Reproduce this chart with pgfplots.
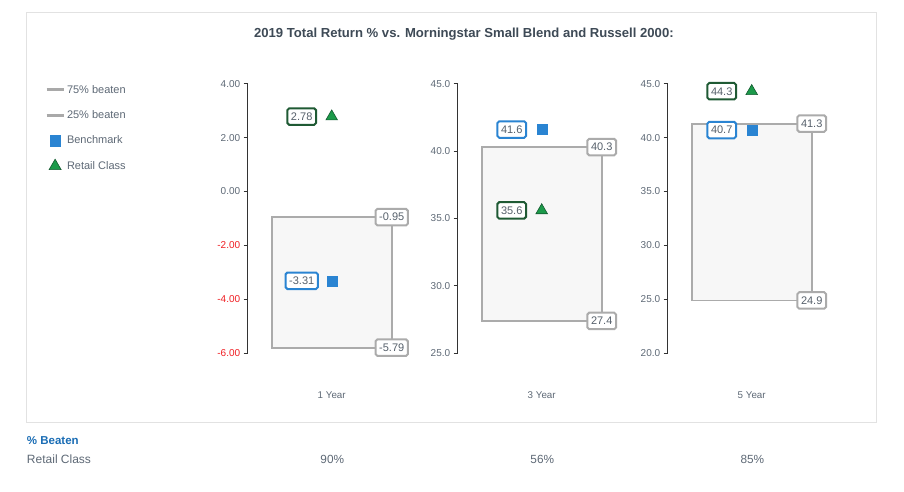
\documentclass[border=0pt]{standalone}
\usepackage{pgfplots}
\pgfplotsset{compat=1.18}
\usepackage{fontspec}
\setmainfont{Liberation Sans}

\definecolor{tickgray}{HTML}{5E6976}
\definecolor{titlecol}{HTML}{3E4A56}
\definecolor{negred}{HTML}{F01E23}
\definecolor{axisblack}{HTML}{333333}
\definecolor{boxfill}{HTML}{F7F7F7}
\definecolor{boxgray}{HTML}{ABABAB}
\definecolor{greenlbl}{HTML}{1F5A34}
\definecolor{trifill}{HTML}{1C9A4A}
\definecolor{triedge}{HTML}{145A30}
\definecolor{benchblue}{HTML}{2A84D2}
\definecolor{labeltext}{HTML}{56606B}
\definecolor{panelgray}{HTML}{E2E2E2}
\definecolor{beatblue}{HTML}{1A6DB5}
\definecolor{legendgray}{HTML}{A9A9A9}

\tikzset{lbl/.style={draw, line width=2pt, rounded corners=1.8pt, fill=white,
    text=labeltext, inner xsep=3.6pt, inner ysep=0pt, minimum height=16.5pt,
    font=\fontsize{11}{13}\selectfont}}

\pgfplotsset{
  boxaxis/.style={
    scale only axis, width=180pt, height=269.6pt,
    xmin=0, xmax=1.5, clip=false,
    axis lines*=left,
    x axis line style={draw=none},
    y axis line style={line width=1.1pt, color=axisblack},
    xtick={0.7}, major x tick style={draw=none},
    ytick style={line width=1.1pt, color=axisblack},
    tick align=outside, major tick length=4pt,
    xticklabel style={font=\fontsize{9.8}{11}\selectfont, text=tickgray, yshift=-31pt},
    yticklabel style={font=\fontsize{10}{12}\selectfont, text=tickgray},
    /pgf/number format/assume math mode=true,
  },
  shortline/.style={legend image code/.code={\draw[##1, line width=2.8pt, legendgray] (0pt,0pt) -- (17pt,0pt);}},
  markimg/.style={legend image code/.code={\draw[##1] plot coordinates {(8.5pt,0pt)};}},
}

\begin{document}
\begin{tikzpicture}[x=1pt,y=1pt]
\path[use as bounding box] (0,0) rectangle (904,491);
\fill[white] (0,0) rectangle (904,491);
\draw[panelgray, line width=1pt] (26.8,68.8) rectangle (876.3,478.7);
\node[font=\bfseries\fontsize{13.1}{15}\selectfont, text=titlecol] at (463.9,456.5)
  {2019 Total Return \% vs. Morningstar Small Blend and Russell 2000:};

% 1 Year
\begin{axis}[boxaxis, at={(247.7pt,137.7pt)}, anchor=south west,
  ymin=-6, ymax=4, ytick={-6,-4,-2,0,2,4},
  yticklabels={\textcolor{negred}{-6.00},\textcolor{negred}{-4.00},\textcolor{negred}{-2.00},0.00,2.00,4.00},
  xticklabels={1 Year},
  legend cell align=left,
  legend style={at={(-1.126,1.003)}, anchor=north west, draw=none, fill=none,
    inner sep=0pt, row sep=11.9pt, font=\fontsize{11}{13}\selectfont, text=tickgray}]
\addlegendimage{shortline}
\addlegendentry{75\% beaten}
\addlegendimage{shortline}
\addlegendentry{25\% beaten}
\addlegendimage{markimg, only marks, mark=square*, mark size=5.3pt, benchblue}
\addlegendentry{Benchmark}
\addlegendimage{markimg, only marks, mark=triangle*, mark size=7pt, mark options={fill=trifill, draw=triedge, line width=0.6pt}}
\addlegendentry{Retail Class}
\addplot[forget plot, draw=boxgray, line width=1.8pt, fill=boxfill]
  coordinates {(0.2,-5.79) (1.2,-5.79) (1.2,-0.95) (0.2,-0.95)} -- cycle;
\addplot[forget plot, draw=none, mark=none, nodes near coords, point meta=explicit symbolic,
  nodes near coords style={lbl, draw=boxgray, anchor=center}]
  coordinates {(1.2,-0.95) [-0.95] (1.2,-5.79) [-5.79]};
\addplot[forget plot, only marks, mark=square*, mark size=5pt, color=benchblue,
  nodes near coords, point meta=explicit symbolic,
  nodes near coords style={lbl, draw=benchblue, anchor=center, xshift=-30pt}]
  coordinates {(0.7,-3.31) [-3.31]};
\addplot[forget plot, only marks, mark=triangle*, mark size=6.7pt,
  mark options={fill=trifill, draw=triedge, line width=0.6pt},
  nodes near coords, point meta=explicit symbolic,
  nodes near coords style={lbl, draw=greenlbl, anchor=center, xshift=-30pt}]
  coordinates {(0.7,2.78) [2.78]};
\end{axis}

% 3 Year
\begin{axis}[boxaxis, at={(457.7pt,137.7pt)}, anchor=south west,
  ymin=25, ymax=45, ytick={25,30,...,45},
  yticklabel style={/pgf/number format/.cd, fixed, fixed zerofill, precision=1},
  xticklabels={3 Year}]
\addplot[draw=boxgray, line width=1.8pt, fill=boxfill]
  coordinates {(0.2,27.4) (1.2,27.4) (1.2,40.3) (0.2,40.3)} -- cycle;
\addplot[draw=none, mark=none, nodes near coords, point meta=explicit symbolic,
  nodes near coords style={lbl, draw=boxgray, anchor=center}]
  coordinates {(1.2,40.3) [40.3] (1.2,27.4) [27.4]};
\addplot[only marks, mark=square*, mark size=5pt, color=benchblue,
  nodes near coords, point meta=explicit symbolic,
  nodes near coords style={lbl, draw=benchblue, anchor=center, xshift=-30pt}]
  coordinates {(0.7,41.6) [41.6]};
\addplot[only marks, mark=triangle*, mark size=6.7pt,
  mark options={fill=trifill, draw=triedge, line width=0.6pt},
  nodes near coords, point meta=explicit symbolic,
  nodes near coords style={lbl, draw=greenlbl, anchor=center, xshift=-30pt}]
  coordinates {(0.7,35.6) [35.6]};
\end{axis}

% 5 Year
\begin{axis}[boxaxis, at={(667.7pt,137.7pt)}, anchor=south west,
  ymin=20, ymax=45, ytick={20,25,...,45},
  yticklabel style={/pgf/number format/.cd, fixed, fixed zerofill, precision=1},
  xticklabels={5 Year}]
\addplot[draw=boxgray, line width=1.8pt, fill=boxfill]
  coordinates {(0.2,24.9) (1.2,24.9) (1.2,41.3) (0.2,41.3)} -- cycle;
\addplot[draw=none, mark=none, nodes near coords, point meta=explicit symbolic,
  nodes near coords style={lbl, draw=boxgray, anchor=center}]
  coordinates {(1.2,41.3) [41.3] (1.2,24.9) [24.9]};
\addplot[only marks, mark=square*, mark size=5pt, color=benchblue,
  nodes near coords, point meta=explicit symbolic,
  nodes near coords style={lbl, draw=benchblue, anchor=center, xshift=-30pt}]
  coordinates {(0.7,40.7) [40.7]};
\addplot[only marks, mark=triangle*, mark size=6.7pt,
  mark options={fill=trifill, draw=triedge, line width=0.6pt},
  nodes near coords, point meta=explicit symbolic,
  nodes near coords style={lbl, draw=greenlbl, anchor=center, xshift=-30pt}]
  coordinates {(0.7,44.3) [44.3]};
\end{axis}

% % Beaten table
\node[anchor=base west, inner sep=0pt, font=\bfseries\fontsize{11.5}{13}\selectfont, text=beatblue] at (26.8,47) {\% Beaten};
\node[anchor=base west, inner sep=0pt, font=\fontsize{12}{14}\selectfont, text=tickgray] at (26.8,27.7) {Retail Class};
\node[anchor=base, font=\fontsize{11.8}{13}\selectfont, text=tickgray] at (332.3,27.7) {90\%};
\node[anchor=base, font=\fontsize{11.8}{13}\selectfont, text=tickgray] at (542.3,27.7) {56\%};
\node[anchor=base, font=\fontsize{11.8}{13}\selectfont, text=tickgray] at (752.3,27.7) {85\%};
\end{tikzpicture}
\end{document}
